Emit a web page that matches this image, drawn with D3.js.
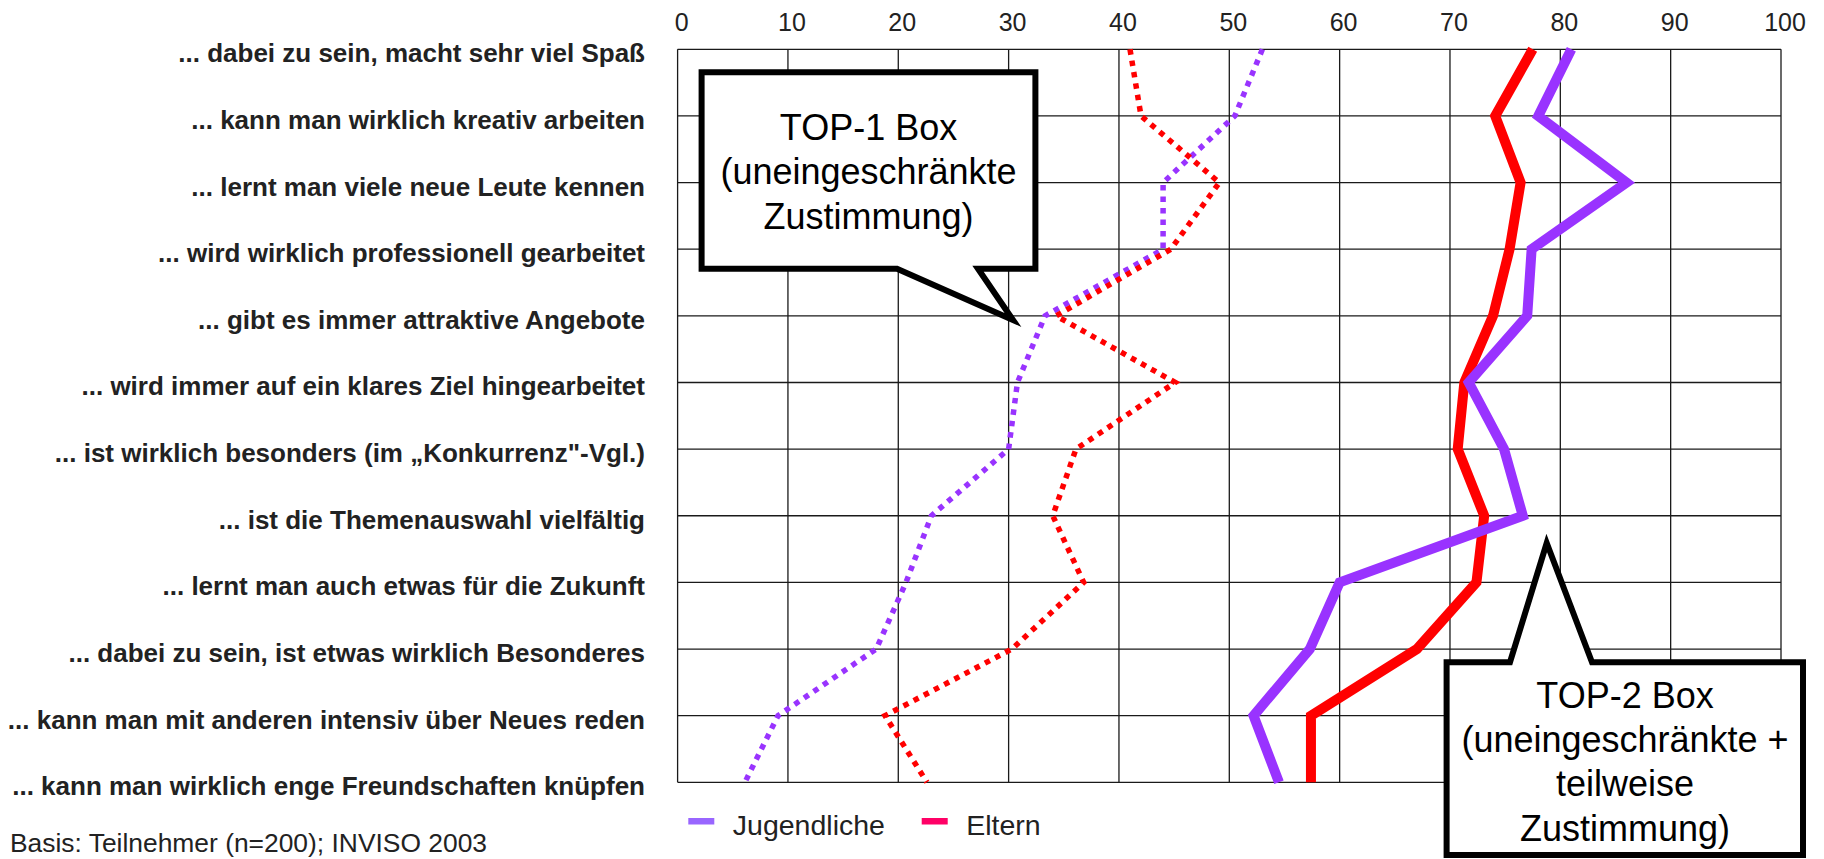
<!DOCTYPE html>
<html>
<head>
<meta charset="utf-8">
<script src="https://cdn.jsdelivr.net/npm/d3@7"></script>
<style>
    body { margin: 0; background: #fff; }
    svg { display: block; font-family: "Liberation Sans", Arial, sans-serif; }
</style>
</head>
<body>
<script>

const categories = [
    "... dabei zu sein, macht sehr viel Spaß",
    "... kann man wirklich kreativ arbeiten",
    "... lernt man viele neue Leute kennen",
    "... wird wirklich professionell gearbeitet",
    "... gibt es immer attraktive Angebote",
    "... wird immer auf ein klares Ziel hingearbeitet",
    "... ist wirklich besonders (im „Konkurrenz\"-Vgl.)",
    "... ist die Themenauswahl vielfältig",
    "... lernt man auch etwas für die Zukunft",
    "... dabei zu sein, ist etwas wirklich Besonderes",
    "... kann man mit anderen intensiv über Neues reden",
    "... kann man wirklich enge Freundschaften knüpfen",
];

const tickValues = [0, 10, 20, 30, 40, 50, 60, 70, 80, 90, 100];

// TOP-2 box (solid lines)
const jugendTop2 = [81, 78, 86, 77.4, 77, 71.7, 74.9, 76.6, 60, 57.3, 52.2, 54.5];
const elternTop2 = [77.5, 74.1, 76.4, 75.4, 73.9, 71.3, 70.7, 73.1, 72.4, 67, 57.4, 57.4];

// TOP-1 box (dotted lines)
const jugendTop1 = [53, 50.5, 44, 44, 33.3, 30.8, 30, 23, 20.7, 18, 9.1, 6.1];
const elternTop1 = [41, 42, 49.1, 44.7, 34.3, 45.1, 36.1, 34, 36.8, 30.3, 18.8, 22.6];

const legendItems = ["Jugendliche", "Eltern"];

const purple = "#9933ff";
const red = "#ff0000";

const width = 1824;
const height = 859;
const plot = {left: 677.6, right: 1781, top: 49.3, bottom: 782.3};

const svg = d3.select("body").append("svg")
    .attr("width", width)
    .attr("height", height);

svg.append("rect")
    .attr("width", width)
    .attr("height", height)
    .style("fill", "#fff");

const x = d3.scaleLinear()
    .domain([0, 100])
    .range([plot.left, plot.right]);

const y = d3.scalePoint()
    .domain(categories)
    .range([plot.top, plot.bottom]);

// grid
const grid = svg.append("g")
    .style("stroke", "#1a1a1a")
    .style("stroke-width", 1.3);

grid.selectAll(".vline")
    .data(tickValues)
    .enter().append("line")
    .attr("x1", d => x(d))
    .attr("x2", d => x(d))
    .attr("y1", plot.top)
    .attr("y2", plot.bottom);

grid.selectAll(".hline")
    .data(categories)
    .enter().append("line")
    .attr("x1", plot.left)
    .attr("x2", plot.right)
    .attr("y1", d => y(d))
    .attr("y2", d => y(d));

// top axis labels
svg.append("g")
    .selectAll("text")
    .data(tickValues)
    .enter().append("text")
    .text(d => d)
    .attr("x", d => x(d) + 4)
    .attr("y", 30.7)
    .attr("text-anchor", "middle")
    .style("font-size", "25px")
    .style("fill", "#222");

// category labels
svg.append("g")
    .selectAll("text")
    .data(categories)
    .enter().append("text")
    .text(d => d)
    .attr("x", 645)
    .attr("y", d => y(d) + 13)
    .attr("text-anchor", "end")
    .style("font-size", "26px")
    .style("font-weight", "bold")
    .style("fill", "#222");

// series
const series = [
    {values: elternTop2, color: red, dotted: false},
    {values: jugendTop2, color: purple, dotted: false},
    {values: jugendTop1, color: purple, dotted: true},
    {values: elternTop1, color: red, dotted: true},
];

const line = d3.line()
    .x(d => x(d.v))
    .y(d => y(d.c));

svg.append("g")
    .selectAll("path")
    .data(series)
    .enter().append("path")
    .attr("d", s => line(s.values.map((v, i) => ({v: v, c: categories[i]}))))
    .style("fill", "none")
    .style("stroke", s => s.color)
    .style("stroke-width", s => s.dotted ? 5.5 : 10)
    .style("stroke-dasharray", s => s.dotted ? "5.5,6" : null)
    .style("stroke-linejoin", "miter");

// legend
const legendColors = ["#9966ff", "#ff0066"];
const legendX = [688.3, 921.7];

const legend = svg.append("g")
    .selectAll("g")
    .data(legendItems)
    .enter().append("g")
    .attr("transform", (d, i) => "translate(" + legendX[i] + ",818)");

legend.append("rect")
    .attr("width", 26)
    .attr("height", 6.5)
    .style("fill", (d, i) => legendColors[i]);

legend.append("text")
    .text(d => d)
    .attr("x", 44.5)
    .attr("y", 17)
    .style("font-size", "28.5px")
    .style("fill", "#222");

// callouts
function callout(path, lines, cx, firstBaseline, lineGap) {
    const g = svg.append("g");
    g.append("path")
        .attr("d", path)
        .style("fill", "#fff")
        .style("stroke", "#000")
        .style("stroke-width", 6)
        .style("stroke-linejoin", "miter");
    g.selectAll("text")
        .data(lines)
        .enter().append("text")
        .text(d => d)
        .attr("x", cx)
        .attr("y", (d, i) => firstBaseline + i * lineGap)
        .attr("text-anchor", "middle")
        .style("font-size", "36px")
        .style("fill", "#000");
}

callout("M701.6,72.3H1035.4V268.7H978L1013,320L897,268.7H701.6Z",
    ["TOP-1 Box", "(uneingeschränkte", "Zustimmung)"], 868.5, 139.5, 44.5);

callout("M1446.6,662.2H1510L1546.7,543L1592,662.2H1803V855H1446.6Z",
    ["TOP-2 Box", "(uneingeschränkte +", "teilweise", "Zustimmung)"], 1625, 707.5, 44.4);

// source note
svg.append("text")
    .text("Basis: Teilnehmer (n=200); INVISO 2003")
    .attr("x", 10)
    .attr("y", 852)
    .style("font-size", "26.4px")
    .style("fill", "#222");

</script>
</body>
</html>
